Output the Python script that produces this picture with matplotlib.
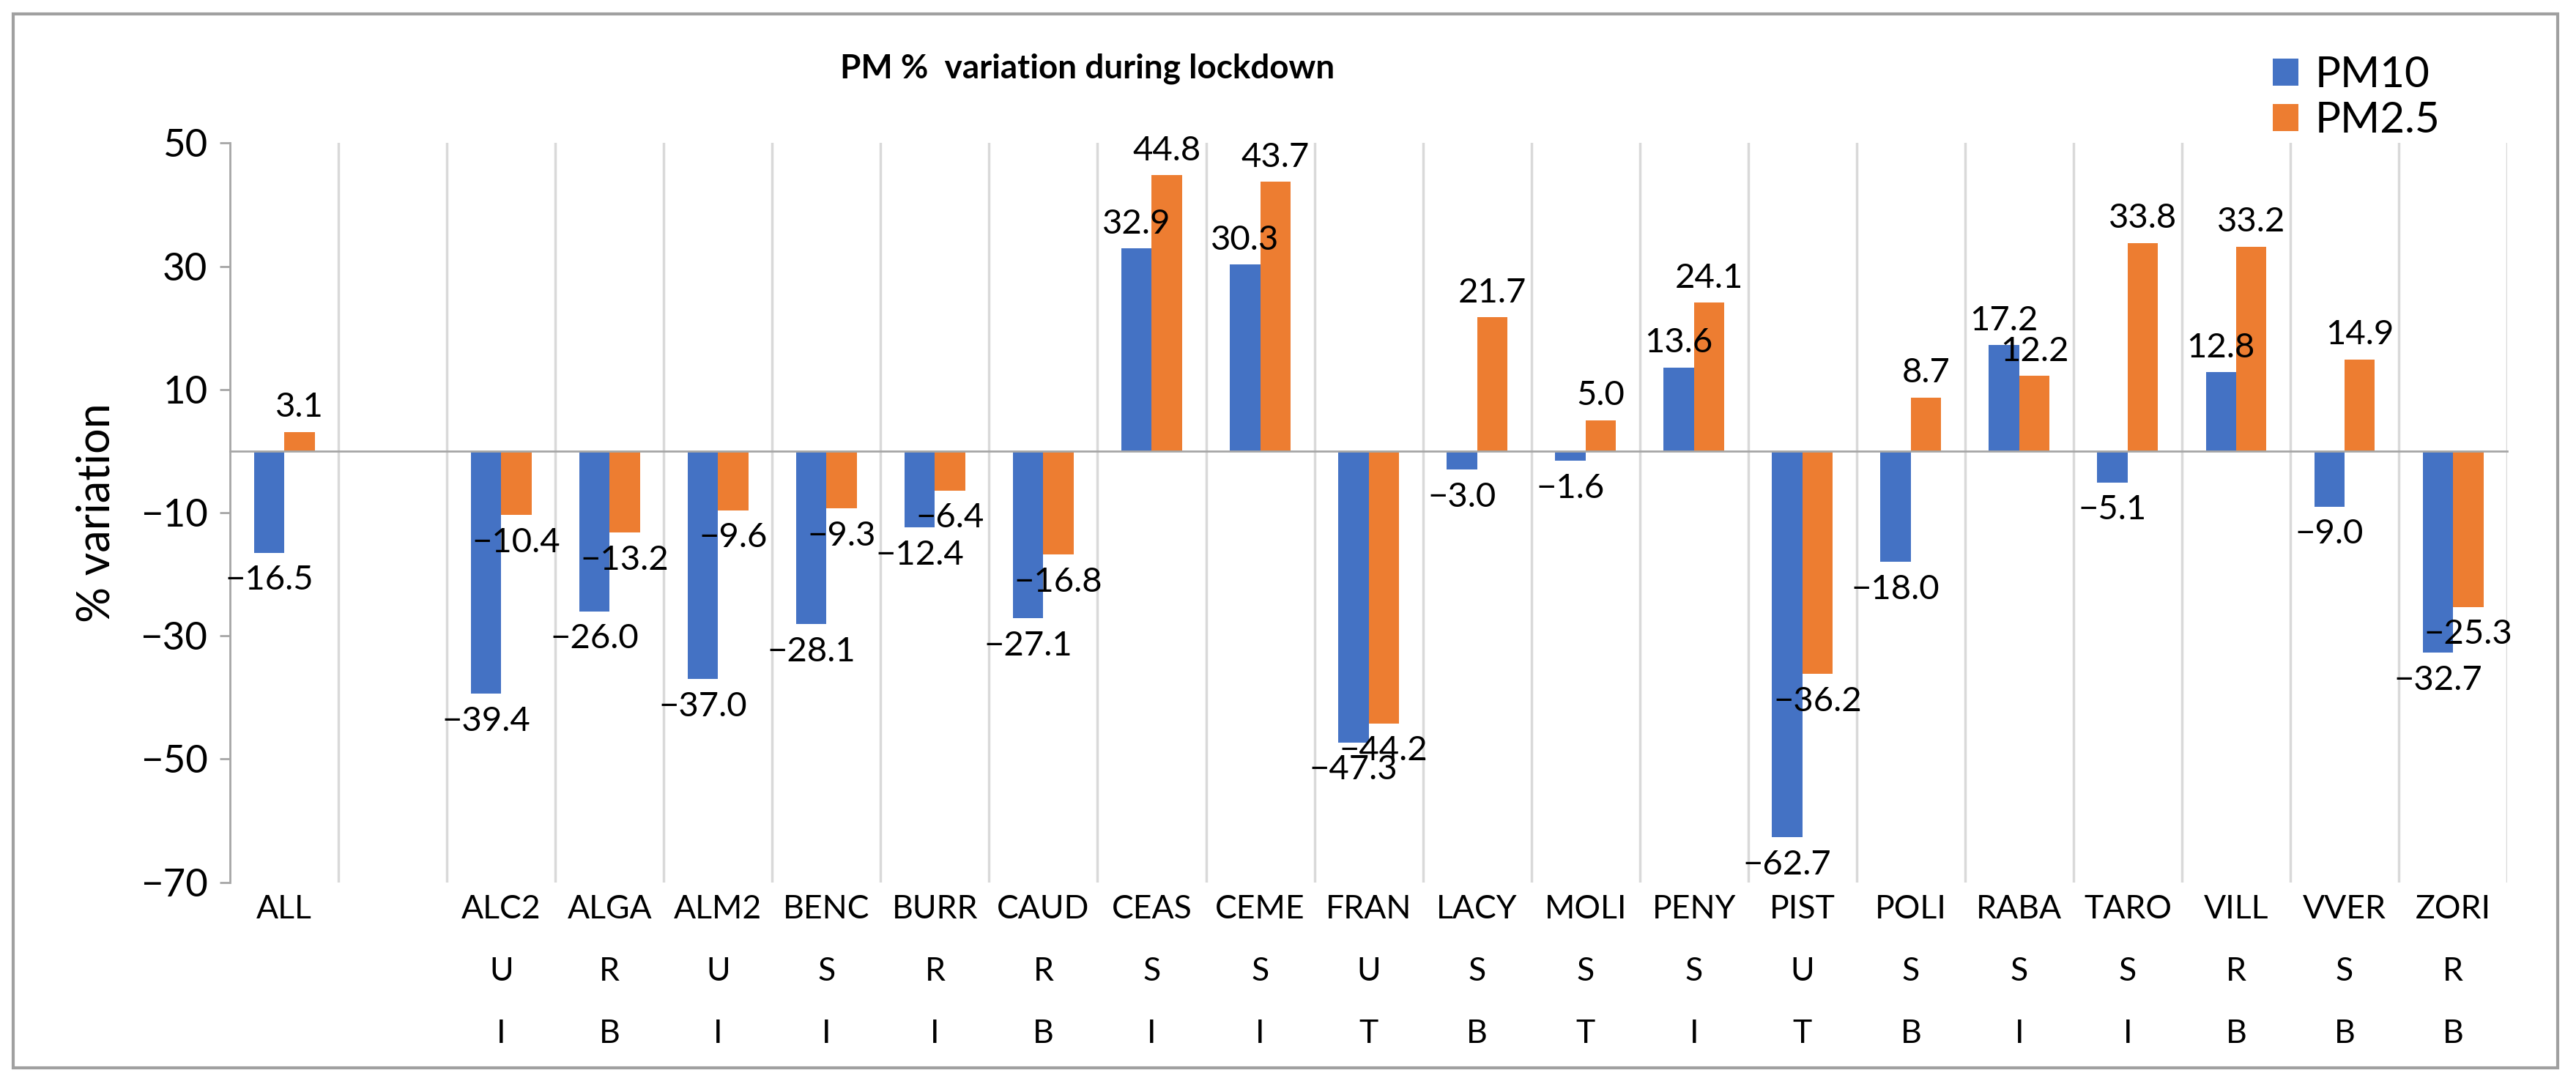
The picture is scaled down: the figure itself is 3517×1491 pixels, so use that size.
import numpy as np
import matplotlib
matplotlib.use("Agg")
import matplotlib.pyplot as plt
from matplotlib.patches import Rectangle

plt.rcParams['font.family'] = ['Lato', 'DejaVu Sans']

# data
stations = ['ALL', '', 'ALC2', 'ALGA', 'ALM2', 'BENC', 'BURR', 'CAUD', 'CEAS', 'CEME',
            'FRAN', 'LACY', 'MOLI', 'PENY', 'PIST', 'POLI', 'RABA', 'TARO', 'VILL',
            'VVER', 'ZORI']
zone = ['', '', 'U', 'R', 'U', 'S', 'R', 'R', 'S', 'S', 'U', 'S', 'S', 'S', 'U', 'S',
        'S', 'S', 'R', 'S', 'R']
kind = ['', '', 'I', 'B', 'I', 'I', 'I', 'B', 'I', 'I', 'T', 'B', 'T', 'I', 'T', 'B',
        'I', 'I', 'B', 'B', 'B']
pm10 = [-16.5, np.nan, -39.4, -26.0, -37.0, -28.1, -12.4, -27.1, 32.9, 30.3, -47.3,
        -3.0, -1.6, 13.6, -62.7, -18.0, 17.2, -5.1, 12.8, -9.0, -32.7]
pm25 = [3.1, np.nan, -10.4, -13.2, -9.6, -9.3, -6.4, -16.8, 44.8, 43.7, -44.2,
        21.7, 5.0, 24.1, -36.2, 8.7, 12.2, 33.8, 33.2, 14.9, -25.3]
yticks = [50, 30, 10, -10, -30, -50, -70]

blue = '#4472C4'
orange = '#ED7D31'
gray = '#A6A6A6'

fig = plt.figure(figsize=(35.17, 14.91), dpi=100)
ax = fig.add_axes([0.0893, 0.192, 0.884, 0.677])

# outer chart frame
fig.patches.append(Rectangle((0.005, 0.022), 0.988, 0.965, transform=fig.transFigure,
                             fill=False, edgecolor='#A0A0A0', linewidth=3))

x = np.arange(len(stations))
w = 0.28
ax.bar(x - w / 2, pm10, w, color=blue, label='PM10')
ax.bar(x + w / 2, pm25, w, color=orange, label='PM2.5')

for xs, vals in ((x - w / 2, pm10), (x + w / 2, pm25)):
    for xi, v in zip(xs, vals):
        if np.isnan(v):
            continue
        txt = f'{v:.1f}'.replace('-', '\u2212')
        if v >= 0:
            ax.annotate(txt, (xi, v), xytext=(0, 9), textcoords='offset points',
                        ha='center', va='bottom', fontsize=34)
        else:
            ax.annotate(txt, (xi, v), xytext=(0, -12), textcoords='offset points',
                        ha='center', va='top', fontsize=34)

ax.set_xlim(-0.5, len(stations) - 0.5)
ax.set_ylim(-70, 50)
ax.set_yticks(yticks)
ax.set_yticklabels([str(t).replace('-', '\u2212') for t in yticks], fontsize=38)
ax.tick_params(axis='y', length=10, width=2, color=gray, pad=12)

# vertical separators between categories
for b in np.arange(0.5, len(stations), 1.0):
    ax.axvline(b, color='#D9D9D9', linewidth=2.5, zorder=0)

ax.spines['top'].set_visible(False)
ax.spines['right'].set_visible(False)
ax.spines['left'].set_color(gray)
ax.spines['left'].set_linewidth(2)
ax.spines['bottom'].set_position(('data', 0))
ax.spines['bottom'].set_color(gray)
ax.spines['bottom'].set_linewidth(2)
ax.set_xticks([])

# multi-level category labels
for row, labels in ((0, stations), (1, zone), (2, kind)):
    for xi, lab in zip(x, labels):
        ax.annotate(lab, (xi, -70), xytext=(0, -12 - row * 61), textcoords='offset points',
                    ha='center', va='top', fontsize=32)

ax.set_ylabel('% variation', fontsize=44, labelpad=22)
fig.text(0.422, 0.937, 'PM %  variation during lockdown', ha='center', va='center',
         fontsize=33, fontweight='bold')

ax.legend(loc='upper left', bbox_to_anchor=(0.88, 1.17), frameon=False, fontsize=42,
          handlelength=0.6, handleheight=0.6, handletextpad=0.4, labelspacing=0.15)

fig.savefig('out.png', dpi=100, facecolor='white')
